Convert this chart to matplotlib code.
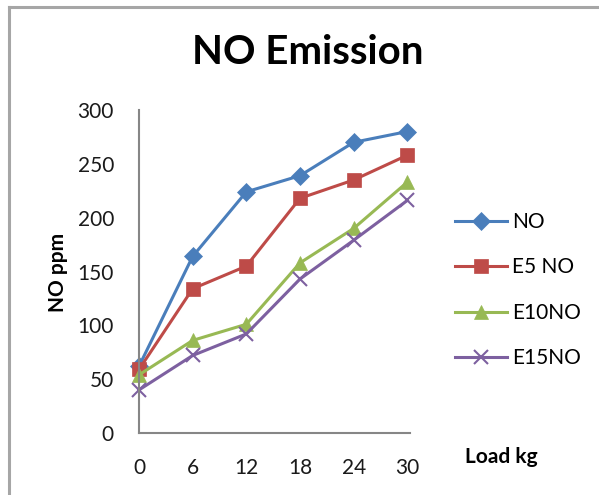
import matplotlib
matplotlib.use("Agg")
from matplotlib import pyplot as plt
from matplotlib.lines import Line2D

plt.rcParams["font.family"] = ["Lato", "DejaVu Sans"]

# Data
LOAD = [0, 6, 12, 18, 24, 30]
NO = [62, 164, 224, 239, 270, 280]
E5_NO = [59, 134, 155, 218, 235, 258]
E10_NO = [54, 86, 101, 158, 190, 233]
E15_NO = [40, 72, 92, 143, 179, 216]

SERIES = [
    ("NO", NO, "#4A7EBB", "D", 9),
    ("E5 NO", E5_NO, "#BE4B48", "s", 10),
    ("E10NO", E10_NO, "#98B954", "^", 10),
    ("E15NO", E15_NO, "#7D60A0", "x", 10),
]


def main() -> None:
    fig = plt.figure(figsize=(5.99, 4.95), dpi=100)

    # chart border (left and top edges visible)
    fig.add_artist(Line2D([8.5 / 599, 8.5 / 599], [0, 1 - 6.5 / 495], color="#A6A6A6", lw=2.2))
    fig.add_artist(Line2D([8.5 / 599, 1], [1 - 6.5 / 495, 1 - 6.5 / 495], color="#A6A6A6", lw=2.2))

    ax = fig.add_axes([139 / 599, 62 / 495, 271 / 599, 323 / 495])

    for label, vals, color, marker, ms in SERIES:
        ax.plot(LOAD, vals, color=color, lw=2.2, marker=marker, markersize=ms,
                markeredgewidth=1.5 if marker == "x" else 0.5,
                markeredgecolor=color, label=label, clip_on=False)

    ax.set_xlim(0, 30.3)
    ax.set_ylim(0, 300)
    ax.set_xticks(LOAD)
    ax.set_yticks(range(0, 301, 50))
    ax.tick_params(axis="both", length=0, labelsize=15, colors="#1A1A1A")
    ax.tick_params(axis="x", pad=18)
    ax.tick_params(axis="y", pad=18)

    for side in ("top", "right"):
        ax.spines[side].set_visible(False)
    for side in ("left", "bottom"):
        ax.spines[side].set_color("#868686")
        ax.spines[side].set_linewidth(1.5)

    fig.text(308 / 599, 1 - 52 / 495, "NO Emission", ha="center", va="center",
             fontsize=29, fontweight="bold")
    fig.text(58 / 599, 1 - 272 / 495, "NO ppm", ha="center", va="center",
             rotation=90, fontsize=15, fontweight="bold")
    fig.text(501 / 599, 1 - 457 / 495, "Load kg", ha="center", va="center",
             fontsize=15, fontweight="bold")

    fig.legend(loc="upper left", bbox_to_anchor=(455 / 599, 1 - 212 / 495),
               frameon=False, fontsize=15, handlelength=2.5, handletextpad=0.25,
               labelspacing=1.22, borderpad=0, borderaxespad=0)

    plt.savefig("out.png", dpi=100)


if __name__ == "__main__":
    main()
